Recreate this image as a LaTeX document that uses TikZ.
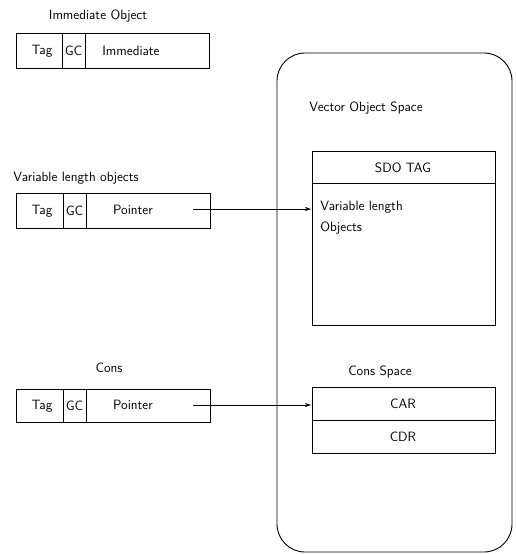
\documentclass[tikz,border=0pt]{standalone}
\usetikzlibrary{arrows.meta}
\begin{document}
\begin{tikzpicture}[x=1pt,y=-1pt,
  line width=0.9pt,
  txt/.style={font=\sffamily\fontsize{13.5}{15}\selectfont, inner sep=0pt},
  ptr/.style={-{Stealth[length=6pt,width=4pt]}, line width=0.8pt}]
\useasboundingbox (0,0) rectangle (515,554);

% Immediate object
\node[txt] (l1) at (98,16) {Immediate Object};
\draw (16,33) rectangle (209,68);
\draw (62,33) -- (62,68);
\draw (85,33) -- (85,68);
\node[txt] (t1) at (42,51) {Tag};
\node[txt] (g1) at (73.5,51) {GC};
\node[txt] (i1) at (131,51) {Immediate};

% Variable length objects
\node[txt, anchor=west] (l2) at (13,178) {Variable length objects};
\draw (16,193) rectangle (210,228);
\draw (63,193) -- (63,228);
\draw (86,193) -- (86,228);
\node[txt] (t2) at (42,211) {Tag};
\node[txt] (g2) at (74.5,211) {GC};
\node[txt] (p2) at (133,210) {Pointer};
\coordinate (s2) at (193,209);

% Cons
\node[txt] (l3) at (109,368) {Cons};
\draw (16,389) rectangle (210,422);
\draw (63,389) -- (63,422);
\draw (86,389) -- (86,422);
\node[txt] (t3) at (42,406) {Tag};
\node[txt] (g3) at (74.5,406) {GC};
\node[txt] (p3) at (133,405) {Pointer};
\coordinate (s3) at (193,405);

% Space outline
\draw[rounded corners=28pt] (277,53) rectangle (512,552);

% Vector object space
\node[txt, anchor=west] (vos) at (309,108) {Vector Object Space};
\draw (312,151) rectangle (495,325);
\draw (312,183) -- (495,183);
\node[txt] (sdo) at (403,168) {SDO TAG};
\node[txt, anchor=west] (v1) at (320,207) {Variable length};
\node[txt, anchor=west] (v2) at (320,228) {Objects};
\coordinate (e2) at (311,209);

% Cons space
\node[txt] (cs) at (380,372) {Cons Space};
\draw (312,387) rectangle (495,453);
\draw (312,420) -- (495,420);
\node[txt] (car) at (403,404) {CAR};
\node[txt] (cdr) at (403,437) {CDR};
\coordinate (e3) at (311,405);

\draw[ptr] (s2) -- (e2);
\draw[ptr] (s3) -- (e3);
\end{tikzpicture}
\end{document}
